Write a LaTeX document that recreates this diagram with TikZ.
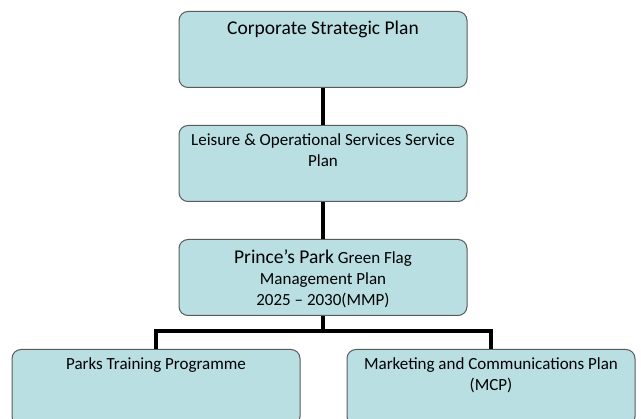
\documentclass[tikz,border=0pt]{standalone}
\usepackage{fontspec}
\setmainfont{Carlito}
\usepackage{xcolor}
\usetikzlibrary{positioning}
\definecolor{planblue}{RGB}{185,223,227}
\definecolor{planedge}{RGB}{90,90,90}

\begin{document}
\begin{tikzpicture}[x=1pt,y=-1pt,
    planbox/.style={draw=planedge,line width=1pt,fill=planblue,rounded corners=9pt,
      minimum width=288pt,minimum height=76pt,inner sep=0pt,anchor=north},
    plantext/.style={anchor=base,align=center,inner sep=0pt,font=\fontsize{17}{21}\selectfont},
    bigtext/.style={font=\fontsize{19.5}{23}\selectfont},
    link/.style={line width=4.2pt,line join=miter}]
    \clip (0,0) rectangle (641,419);
    % Main components (text sits on the baseline of its last line)
    \node[planbox] (csp) at (323,11) {};
    \node[plantext,bigtext] (csp-text) at ([yshift=-23.3pt]csp.north) {Corporate Strategic Plan};

    \node[planbox,below=37pt of csp] (lops) {};
    \node[plantext] (lops-text) at ([yshift=-42pt]lops.north) {Leisure \& Operational Services Service\\Plan};

    \node[planbox,below=37pt of lops] (mmp) {};
    \node[plantext] (mmp-text) at ([yshift=-66.3pt]mmp.north) {{\fontsize{19.5}{23}\selectfont Prince’s Park} Green Flag\\Management Plan\\2025 – 2030(MMP)};

    \node[planbox] (ptp) at (156,349) {};
    \node[plantext] (ptp-text) at ([yshift=-21pt]ptp.north) {Parks Training Programme};

    \node[planbox] (mcp) at (491,349) {};
    \node[plantext] (mcp-text) at ([yshift=-41.5pt]mcp.north) {Marketing and Communications Plan\\(MCP)};

    % Connections
    \coordinate (split) at (323,331);
    \draw[link] (csp.south) -- (lops.north);
    \draw[link] (lops.south) -- (mmp.north);
    \draw[link] (mmp.south) -- (split);
    \draw[link] (ptp.north) |- (split) -| (mcp.north);
\end{tikzpicture}
\end{document}
